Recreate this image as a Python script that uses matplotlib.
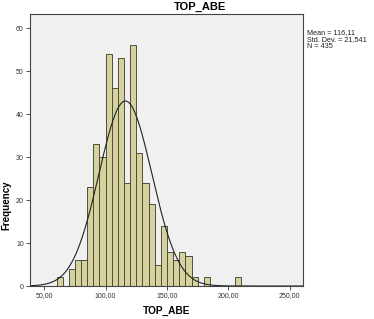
"""Histogram of TOP_ABE with normal curve."""
import matplotlib
matplotlib.use("Agg")
import matplotlib.pyplot as plt
import numpy as np

bin_left = [60, 65, 70, 75, 80, 85, 90, 95, 100, 105, 110, 115, 120, 125,
            130, 135, 140, 145, 150, 155, 160, 165, 170, 175, 180, 185,
            190, 195, 200, 205]
counts = [2, 0, 4, 6, 6, 23, 33, 30, 54, 46, 53, 24, 56, 31,
          24, 19, 5, 14, 8, 6, 8, 7, 2, 0, 2, 0,
          0, 0, 0, 2]
bin_width = 5
mean = 116.11
std_dev = 21.541
n_cases = 435
x_ticks = [50, 100, 150, 200, 250]
x_tick_labels = ["50,00", "100,00", "150,00", "200,00", "250,00"]
y_ticks = [0, 10, 20, 30, 40, 50, 60]

plt.rcParams["font.family"] = ["Liberation Sans", "DejaVu Sans"]

fig = plt.figure(figsize=(3.74, 3.19), dpi=100)
fig.patch.set_facecolor("white")
ax = fig.add_axes([0.0802, 0.1034, 0.7308, 0.8527])
ax.set_facecolor("#f0f0f0")

left = [b for b, c in zip(bin_left, counts) if c > 0]
heights = [c for c in counts if c > 0]
ax.bar(left, heights, width=bin_width, align="edge",
       color="#d6d29d", edgecolor="#4d4d40", linewidth=0.7)

# normal curve scaled to the histogram
xs = np.linspace(38.4, 261, 400)
scale = sum(counts) * bin_width
ys = scale * np.exp(-0.5 * ((xs - mean) / std_dev) ** 2) / (std_dev * np.sqrt(2 * np.pi))
ax.plot(xs, ys, color="#222222", linewidth=0.8)

ax.set_xlim(38.4, 261)
ax.set_ylim(0, 63.3)
ax.set_xticks(x_ticks)
ax.set_xticklabels(x_tick_labels)
ax.set_yticks(y_ticks)
ax.tick_params(labelsize=5, colors="#333333", length=3, width=0.6, pad=1.5)
for s in ax.spines.values():
    s.set_color("#444444")
    s.set_linewidth(0.8)

fig.text(200 / 374, 1 - 7 / 319, "TOP_ABE", ha="center", va="center",
         fontsize=8, fontweight="bold")
fig.text(167 / 374, 1 - 311 / 319, "TOP_ABE", ha="center", va="center",
         fontsize=7.3, fontweight="bold")
fig.text(6 / 374, 1 - 205 / 319, "Frequency", ha="center", va="center",
         rotation=90, fontsize=7, fontweight="bold")
fig.text(307 / 374, 1 - 29 / 319,
         "Mean = 116,11\nStd. Dev. = 21,541\nN = %d" % n_cases,
         ha="left", va="top", fontsize=5.2, linespacing=1.05, color="#222222")

fig.savefig("out.png", dpi=100)
